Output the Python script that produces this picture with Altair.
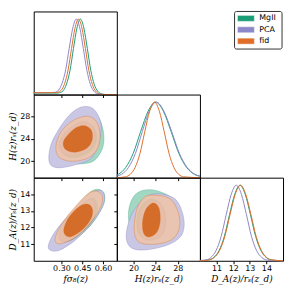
import altair as alt
import pandas as pd

datasets = ["MgII", "PCA", "fid"]
line_colors = ["#1b9e77", "#8c87c8", "#e06e28"]

# ---------- axis ticks ----------
fs8_ticks = [0.30, 0.45, 0.60]
H_ticks = [20, 24, 28]
DA_ticks = [11, 12, 13, 14]
fs8_dom = [0.10, 0.70]
H_dom = [17, 32]
DA_dom = [10, 15]

# ---------- 1D marginals ----------
F_MgII_x = [0.100, 0.220, 0.262, 0.287, 0.312, 0.337, 0.362, 0.387, 0.412, 0.437, 0.462, 0.487, 0.512, 0.537, 0.562, 0.587, 0.612, 0.637, 0.700]
F_MgII_y = [0.02, 0.02, 0.02, 0.025, 0.05, 0.14, 0.32, 0.61, 0.88, 1.0, 0.88, 0.61, 0.32, 0.135, 0.044, 0.011, 0.002, 0.0, 0.0]
F_PCA_x = [0.100, 0.180, 0.228, 0.254, 0.280, 0.305, 0.331, 0.356, 0.382, 0.407, 0.433, 0.458, 0.484, 0.509, 0.535, 0.560, 0.586, 0.611, 0.700]
F_PCA_y = [0.025, 0.025, 0.026, 0.03, 0.06, 0.15, 0.33, 0.61, 0.88, 1.0, 0.88, 0.61, 0.32, 0.135, 0.044, 0.011, 0.002, 0.0, 0.0]
F_fid_x = [0.100, 0.200, 0.248, 0.273, 0.298, 0.323, 0.348, 0.373, 0.398, 0.423, 0.448, 0.473, 0.498, 0.523, 0.548, 0.573, 0.598, 0.623, 0.700]
F_fid_y = [0.025, 0.025, 0.025, 0.03, 0.055, 0.145, 0.325, 0.61, 0.88, 1.0, 0.88, 0.61, 0.32, 0.135, 0.044, 0.011, 0.002, 0.0, 0.0]

H_MgII_x = [17.0, 17.25, 18.6, 19.95, 21.3, 22.65, 24.0, 25.4, 26.8, 28.2, 29.6, 31.0, 32.0]
H_MgII_y = [0.035, 0.044, 0.135, 0.32, 0.61, 0.88, 1.0, 0.88, 0.61, 0.32, 0.135, 0.044, 0.02]
H_PCA_x = [17.0, 17.85, 19.1, 20.35, 21.6, 22.85, 24.1, 25.5, 26.9, 28.3, 29.7, 31.1, 32.0]
H_PCA_y = [0.02, 0.044, 0.135, 0.32, 0.61, 0.88, 1.0, 0.88, 0.61, 0.32, 0.135, 0.044, 0.02]
H_fid_x = [17.0, 18.55, 19.425, 20.3, 21.175, 22.05, 22.925, 23.8, 24.675, 25.55, 26.425, 27.3, 28.175, 29.05, 32.0]
H_fid_y = [0.0, 0.011, 0.044, 0.135, 0.32, 0.61, 0.88, 1.0, 0.88, 0.61, 0.32, 0.135, 0.044, 0.011, 0.0]

D_MgII_x = [10.0, 10.52, 10.835, 11.15, 11.465, 11.78, 12.095, 12.41, 12.725, 13.04, 13.355, 13.67, 13.985, 14.30, 15.0]
D_MgII_y = [0.0, 0.011, 0.044, 0.135, 0.32, 0.61, 0.88, 1.0, 0.88, 0.61, 0.32, 0.135, 0.044, 0.011, 0.0]
D_PCA_x = [10.0, 10.36, 10.665, 10.97, 11.275, 11.58, 11.885, 12.19, 12.495, 12.8, 13.105, 13.41, 13.715, 14.02, 14.325, 15.0]
D_PCA_y = [0.005, 0.011, 0.044, 0.135, 0.32, 0.61, 0.88, 1.0, 0.88, 0.61, 0.32, 0.135, 0.044, 0.011, 0.002, 0.0]
D_fid_x = [10.0, 10.55, 10.865, 11.18, 11.495, 11.81, 12.125, 12.44, 12.755, 13.07, 13.385, 13.7, 14.015, 14.33, 15.0]
D_fid_y = [0.0, 0.011, 0.044, 0.135, 0.32, 0.61, 0.88, 1.0, 0.88, 0.61, 0.32, 0.135, 0.044, 0.011, 0.0]

# ---------- 2D contours (68% / 95%) ----------
# H vs f sigma8
A_MgII_95_x = [0.493, 0.563, 0.602, 0.600, 0.540, 0.447, 0.342, 0.272, 0.272, 0.342, 0.412]
A_MgII_95_y = [29.1, 28.1, 25.5, 22.6, 20.15, 19.5, 19.8, 21.1, 23.75, 26.9, 28.5]
A_PCA_95_x = [0.482, 0.544, 0.586, 0.574, 0.517, 0.412, 0.295, 0.226, 0.209, 0.237, 0.330, 0.412]
A_PCA_95_y = [29.85, 29.1, 26.65, 23.75, 20.55, 19.4, 18.8, 19.2, 20.85, 23.75, 27.5, 29.4]
A_fid_95_x = [0.482, 0.551, 0.579, 0.563, 0.493, 0.377, 0.283, 0.260, 0.295, 0.377]
A_fid_95_y = [28.1, 27.2, 24.9, 22.3, 20.55, 19.95, 20.7, 22.6, 25.2, 27.2]
A_MgII_68_x = [0.482, 0.540, 0.552, 0.505, 0.400, 0.318, 0.295, 0.342, 0.412]
A_MgII_68_y = [26.8, 25.8, 23.7, 21.7, 20.65, 21.2, 22.85, 24.9, 26.35]
A_PCA_68_x = [0.470, 0.528, 0.540, 0.493, 0.388, 0.307, 0.283, 0.330, 0.400]
A_PCA_68_y = [27.1, 26.1, 24.0, 22.0, 20.95, 21.5, 23.15, 25.2, 26.65]
A_fid_68_x = [0.470, 0.517, 0.521, 0.482, 0.400, 0.330, 0.314, 0.353, 0.412]
A_fid_68_y = [26.35, 25.5, 23.75, 22.3, 21.6, 22.1, 23.45, 24.9, 26.1]

# D_A vs f sigma8
B_MgII_95_x = [0.563, 0.609, 0.604, 0.528, 0.423, 0.318, 0.260, 0.260, 0.318, 0.423, 0.505]
B_MgII_95_y = [14.30, 14.05, 13.37, 12.31, 11.44, 10.95, 11.01, 11.44, 12.31, 13.37, 14.11]
B_PCA_95_x = [0.574, 0.609, 0.597, 0.517, 0.400, 0.283, 0.214, 0.210, 0.260, 0.377, 0.493]
B_PCA_95_y = [14.24, 13.95, 13.27, 12.21, 11.24, 10.62, 10.66, 11.05, 11.82, 12.98, 13.95]
B_fid_95_x = [0.551, 0.593, 0.586, 0.512, 0.412, 0.307, 0.260, 0.260, 0.318, 0.412, 0.493]
B_fid_95_y = [14.19, 13.95, 13.27, 12.31, 11.47, 11.05, 11.09, 11.53, 12.40, 13.37, 14.05]
B_MgII_68_x = [0.517, 0.556, 0.547, 0.482, 0.389, 0.319, 0.295, 0.330, 0.412]
B_MgII_68_y = [13.76, 13.42, 12.74, 11.97, 11.33, 11.20, 11.58, 12.36, 13.13]
B_PCA_68_x = [0.505, 0.544, 0.535, 0.470, 0.377, 0.307, 0.283, 0.318, 0.400]
B_PCA_68_y = [13.72, 13.37, 12.69, 11.92, 11.28, 11.15, 11.53, 12.31, 13.08]
B_fid_68_x = [0.482, 0.521, 0.517, 0.458, 0.377, 0.330, 0.318, 0.353, 0.423]
B_fid_68_y = [13.41, 13.18, 12.60, 11.92, 11.47, 11.53, 11.92, 12.60, 13.22]

# D_A vs H
C_MgII_95_x = [21.77, 24.41, 27.36, 28.53, 28.24, 26.18, 22.95, 20.58, 19.41, 19.12, 20.0]
C_MgII_95_y = [14.24, 14.20, 13.66, 12.69, 11.73, 11.24, 11.05, 11.24, 11.92, 12.98, 13.85]
C_PCA_95_x = [23.53, 27.36, 29.0, 28.83, 26.48, 22.35, 19.70, 18.71, 19.12, 20.58]
C_PCA_95_y = [14.01, 13.76, 12.69, 11.63, 10.99, 10.66, 10.76, 11.34, 12.31, 13.27]
C_fid_95_x = [23.23, 26.48, 28.12, 28.24, 26.76, 23.53, 20.88, 20.12, 20.58, 21.77]
C_fid_95_y = [13.95, 13.76, 12.89, 11.92, 11.24, 10.99, 11.15, 11.92, 13.08, 13.76]
C_MgII_68_x = [23.23, 25.0, 25.58, 24.88, 22.93, 21.17, 20.58, 21.34]
C_MgII_68_y = [13.72, 13.37, 12.50, 11.67, 11.34, 11.54, 12.31, 13.28]
C_PCA_68_x = [23.53, 25.30, 25.88, 25.18, 23.23, 21.47, 20.88, 21.64]
C_PCA_68_y = [13.62, 13.27, 12.40, 11.57, 11.24, 11.44, 12.21, 13.18]
C_fid_68_x = [23.53, 24.59, 24.82, 24.24, 22.95, 21.89, 21.64, 22.24]
C_fid_68_y = [13.47, 13.18, 12.40, 11.73, 11.44, 11.63, 12.31, 13.08]

contours = {
    "A": {("MgII", "95"): (A_MgII_95_x, A_MgII_95_y), ("PCA", "95"): (A_PCA_95_x, A_PCA_95_y),
          ("fid", "95"): (A_fid_95_x, A_fid_95_y), ("MgII", "68"): (A_MgII_68_x, A_MgII_68_y),
          ("PCA", "68"): (A_PCA_68_x, A_PCA_68_y), ("fid", "68"): (A_fid_68_x, A_fid_68_y)},
    "B": {("MgII", "95"): (B_MgII_95_x, B_MgII_95_y), ("PCA", "95"): (B_PCA_95_x, B_PCA_95_y),
          ("fid", "95"): (B_fid_95_x, B_fid_95_y), ("MgII", "68"): (B_MgII_68_x, B_MgII_68_y),
          ("PCA", "68"): (B_PCA_68_x, B_PCA_68_y), ("fid", "68"): (B_fid_68_x, B_fid_68_y)},
    "C": {("MgII", "95"): (C_MgII_95_x, C_MgII_95_y), ("PCA", "95"): (C_PCA_95_x, C_PCA_95_y),
          ("fid", "95"): (C_fid_95_x, C_fid_95_y), ("MgII", "68"): (C_MgII_68_x, C_MgII_68_y),
          ("PCA", "68"): (C_PCA_68_x, C_PCA_68_y), ("fid", "68"): (C_fid_68_x, C_fid_68_y)},
}
marginals = {
    "F": {"MgII": (F_MgII_x, F_MgII_y), "PCA": (F_PCA_x, F_PCA_y), "fid": (F_fid_x, F_fid_y)},
    "H": {"MgII": (H_MgII_x, H_MgII_y), "PCA": (H_PCA_x, H_PCA_y), "fid": (H_fid_x, H_fid_y)},
    "D": {"MgII": (D_MgII_x, D_MgII_y), "PCA": (D_PCA_x, D_PCA_y), "fid": (D_fid_x, D_fid_y)},
}

fill_col = {("MgII", "95"): "#a2d8c3", ("PCA", "95"): "#c9c7e4", ("fid", "95"): "#f0c3a4",
            ("MgII", "68"): "#8fb99a", ("PCA", "68"): "#b7a3b8", ("fid", "68"): "#d2661e"}
edge_col = {"MgII": "#1b9e77", "PCA": "#7570b3", "fid": "#d95f02"}
fill_op = {("MgII", "95"): 1.0, ("PCA", "95"): 1.0, ("MgII", "68"): 1.0, ("PCA", "68"): 1.0,
           ("fid", "95"): 0.8, ("fid", "68"): 0.92}
draw_order = [("MgII", "95"), ("PCA", "95"), ("MgII", "68"), ("PCA", "68"), ("fid", "95"), ("fid", "68")]

W, Hh = 84, 84

T_F = "fσ₈(z)"
T_H = "H(z)rₛ(z_d)"
T_D = "D_A(z)/rₛ(z_d)"

color_scale = alt.Scale(domain=datasets, range=line_colors)


def ax(values, title=None, labels=True, fmt=None):
    kw = dict(values=values, labels=labels, title=title, ticks=True)
    if fmt:
        kw["format"] = fmt
    return alt.Axis(**kw)


def contour_panel(key, xdom, ydom, xaxis, yaxis):
    layers = []
    for ds, lvl in draw_order:
        xs, ys = contours[key][(ds, lvl)]
        d = pd.DataFrame({"i": list(range(len(xs))), "x": xs, "y": ys})
        layers.append(
            alt.Chart(d).mark_line(
                interpolate="cardinal-closed", fill=fill_col[(ds, lvl)],
                fillOpacity=fill_op[(ds, lvl)], stroke=edge_col[ds],
                strokeWidth=0.5, strokeOpacity=0.6
            ).encode(
                x=alt.X("x:Q", scale=alt.Scale(domain=xdom, nice=False, zero=False), axis=xaxis),
                y=alt.Y("y:Q", scale=alt.Scale(domain=ydom, nice=False, zero=False), axis=yaxis),
                order=alt.Order("i:Q"),
            )
        )
    return alt.layer(*layers).properties(width=W, height=Hh)


def marginal_panel(key, xdom, xaxis):
    recs = []
    for ds in datasets:
        xs, ys = marginals[key][ds]
        for a, b in zip(xs, ys):
            recs.append({"ds": ds, "x": a, "y": b})
    d = pd.DataFrame(recs)
    return alt.Chart(d).mark_line(interpolate="monotone", strokeWidth=1).encode(
        x=alt.X("x:Q", scale=alt.Scale(domain=xdom, nice=False, zero=False), axis=xaxis),
        y=alt.Y("y:Q", scale=alt.Scale(domain=[0, 1.1], nice=False), axis=None),
        color=alt.Color("ds:N", scale=color_scale, legend=None),
    ).properties(width=W, height=Hh)


def blank():
    return alt.Chart(pd.DataFrame({"v": [0.0]})).mark_point(opacity=0).encode(
        x=alt.X("v:Q", axis=None), y=alt.Y("v:Q", axis=None)
    ).properties(width=W, height=Hh, view=alt.ViewBackground(stroke="transparent"))


def legend_panel():
    ldf = pd.DataFrame({"ds": datasets})
    yk = alt.Y("ds:N", axis=None, sort=datasets,
               scale=alt.Scale(type="point", domain=datasets, range=[7, 30], padding=0))
    box = alt.Chart(pd.DataFrame({"v": [0]})).mark_rect(
        fill="white", stroke="#333333", strokeWidth=1, cornerRadius=2
    ).encode(x=alt.value(35), x2=alt.value(83), y=alt.value(0), y2=alt.value(38))
    patches = alt.Chart(ldf).mark_rect(height=6, stroke="#f0f0f0", strokeWidth=0.5).encode(
        x=alt.value(38), x2=alt.value(55), y=yk,
        fill=alt.Fill("ds:N", scale=color_scale, legend=None),
    )
    labels = alt.Chart(ldf).mark_text(
        align="left", baseline="middle", font="DejaVu Sans", fontSize=8, color="black"
    ).encode(x=alt.value(60), y=yk, text="ds:N")
    return alt.layer(box, patches, labels).properties(
        width=W, height=Hh, view=alt.ViewBackground(stroke="transparent")
    )


p00 = marginal_panel("F", fs8_dom, ax(fs8_ticks, labels=False))
p10 = contour_panel("A", fs8_dom, H_dom, ax(fs8_ticks, labels=False), ax(H_ticks, title=T_H))
p11 = marginal_panel("H", H_dom, ax(H_ticks, labels=False))
p20 = contour_panel("B", fs8_dom, DA_dom, ax(fs8_ticks, title=T_F, fmt=".2f"), ax(DA_ticks, title=T_D))
p21 = contour_panel("C", H_dom, DA_dom, ax(H_ticks, title=T_H), ax(DA_ticks, labels=False))
p22 = marginal_panel("D", DA_dom, ax(DA_ticks, title=T_D))

chart = alt.concat(
    p00, blank(), legend_panel(),
    p10, p11, blank(),
    p20, p21, p22,
    columns=3, spacing=0, bounds="flush",
).resolve_scale(
    x="independent", y="independent"
).properties(
    padding={"left": 0, "top": 1, "right": 0, "bottom": 0}
).configure_view(
    stroke="black", strokeWidth=1
).configure_axis(
    labelFont="DejaVu Sans", labelFontSize=8, labelColor="black", labelPadding=1,
    titleFont="DejaVu Serif", titleFontStyle="italic", titleFontWeight="normal",
    titleFontSize=9, titleColor="black", titlePadding=2,
    tickSize=3, tickColor="black", tickWidth=1, domain=False, grid=False,
)

chart.save("out.html", embed_options={"renderer": "svg", "actions": False})
